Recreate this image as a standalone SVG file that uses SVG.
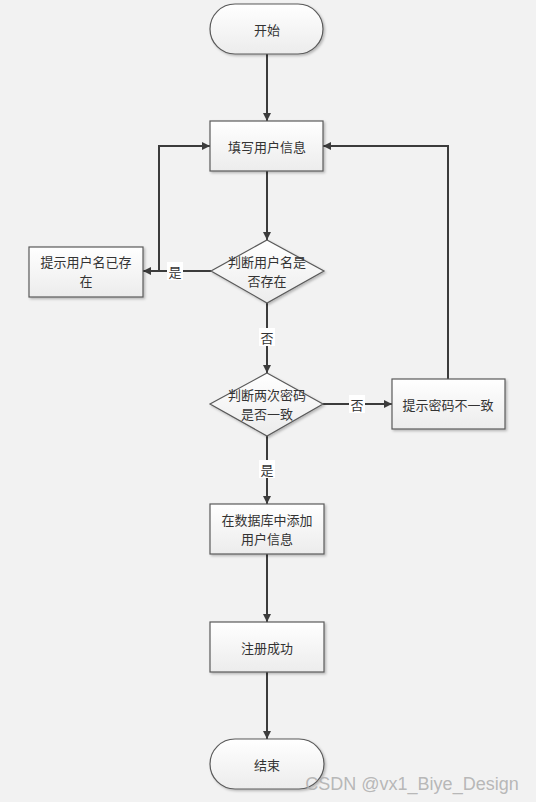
<svg xmlns="http://www.w3.org/2000/svg" width="536" height="802" viewBox="0 0 536 802">
<defs>
<linearGradient id="g" x1="0" y1="0" x2="0" y2="1">
<stop offset="0" stop-color="#ffffff"/>
<stop offset="1" stop-color="#ececec"/>
</linearGradient>
<filter id="sh" x="-10%" y="-10%" width="130%" height="140%">
<feDropShadow dx="1.5" dy="1.5" stdDeviation="1" flood-color="#000" flood-opacity="0.25"/>
</filter>
<marker id="ar" viewBox="0 0 10 10" refX="10" refY="5" markerWidth="9" markerHeight="8" orient="auto" markerUnits="userSpaceOnUse">
<path d="M0,0 L10,5 L0,10 z" fill="#3c3c3c"/>
</marker>
</defs>
<style>
.n{fill:url(#g);stroke:#5a5a5a;stroke-width:1.2;filter:url(#sh)}
.t{font-family:"Noto Sans CJK SC","Noto Sans",sans-serif;font-size:13px;fill:#333;text-anchor:middle;dominant-baseline:central}
.c{fill:none;stroke:#3c3c3c;stroke-width:2;marker-end:url(#ar)}
.lb{fill:#ffffff}
</style>
<rect width="536" height="802" fill="#f2f2f2"/>
<g id="connectors">
<path class="c" d="M267,54 V121"/>
<path class="c" d="M267,171 V240"/>
<path class="c" d="M211,271 H143"/>
<path class="c" d="M159,271 V146 H210"/>
<path class="c" d="M267,303 V373"/>
<path class="c" d="M323,404 H392"/>
<path class="c" d="M448,379 V146 H323"/>
<path class="c" d="M267,436 V504"/>
<path class="c" d="M267,554 V622"/>
<path class="c" d="M267,672 V739"/>
<rect class="lb" x="167" y="262" width="16" height="18"/>
<text class="t" x="175" y="271">是</text>
<rect class="lb" x="259" y="328" width="16" height="18"/>
<text class="t" x="267" y="337">否</text>
<rect class="lb" x="349" y="395" width="16" height="18"/>
<text class="t" x="357" y="404">否</text>
<rect class="lb" x="259" y="460" width="16" height="18"/>
<text class="t" x="267" y="469">是</text>
</g>
<g id="start">
<rect class="n" x="210" y="4" width="113" height="50" rx="25"/>
<text class="t" x="267" y="29">开始</text>
</g>
<g id="fill">
<rect class="n" x="210" y="121" width="113" height="50"/>
<text class="t" x="267" y="146">填写用户信息</text>
</g>
<g id="check-name">
<polygon class="n" points="267,240 324,271 267,303 211,271"/>
<text class="t" x="267" y="261.5">判断用户名是</text>
<text class="t" x="267" y="280.5">否存在</text>
</g>
<g id="name-exists">
<rect class="n" x="29" y="247" width="114" height="50"/>
<text class="t" x="86" y="261.5">提示用户名已存</text>
<text class="t" x="86" y="280.5">在</text>
</g>
<g id="check-pwd">
<polygon class="n" points="267,373 323,404 267,436 210,404"/>
<text class="t" x="267" y="394.5">判断两次密码</text>
<text class="t" x="267" y="413.5">是否一致</text>
</g>
<g id="pwd-mismatch">
<rect class="n" x="392" y="379" width="113" height="50"/>
<text class="t" x="448" y="404">提示密码不一致</text>
</g>
<g id="add-db">
<rect class="n" x="210" y="504" width="114" height="50"/>
<text class="t" x="267" y="519.5">在数据库中添加</text>
<text class="t" x="267" y="538.5">用户信息</text>
</g>
<g id="success">
<rect class="n" x="210" y="622" width="114" height="50"/>
<text class="t" x="267" y="647">注册成功</text>
</g>
<g id="end">
<rect class="n" x="210" y="739" width="114" height="50" rx="25"/>
<text class="t" x="267" y="764">结束</text>
</g>
<text x="412" y="790" font-family="'Liberation Sans',Arial,sans-serif" font-size="18" fill="#b0b0b0" fill-opacity="0.9" text-anchor="middle">CSDN @vx1_Biye_Design</text>
</svg>
